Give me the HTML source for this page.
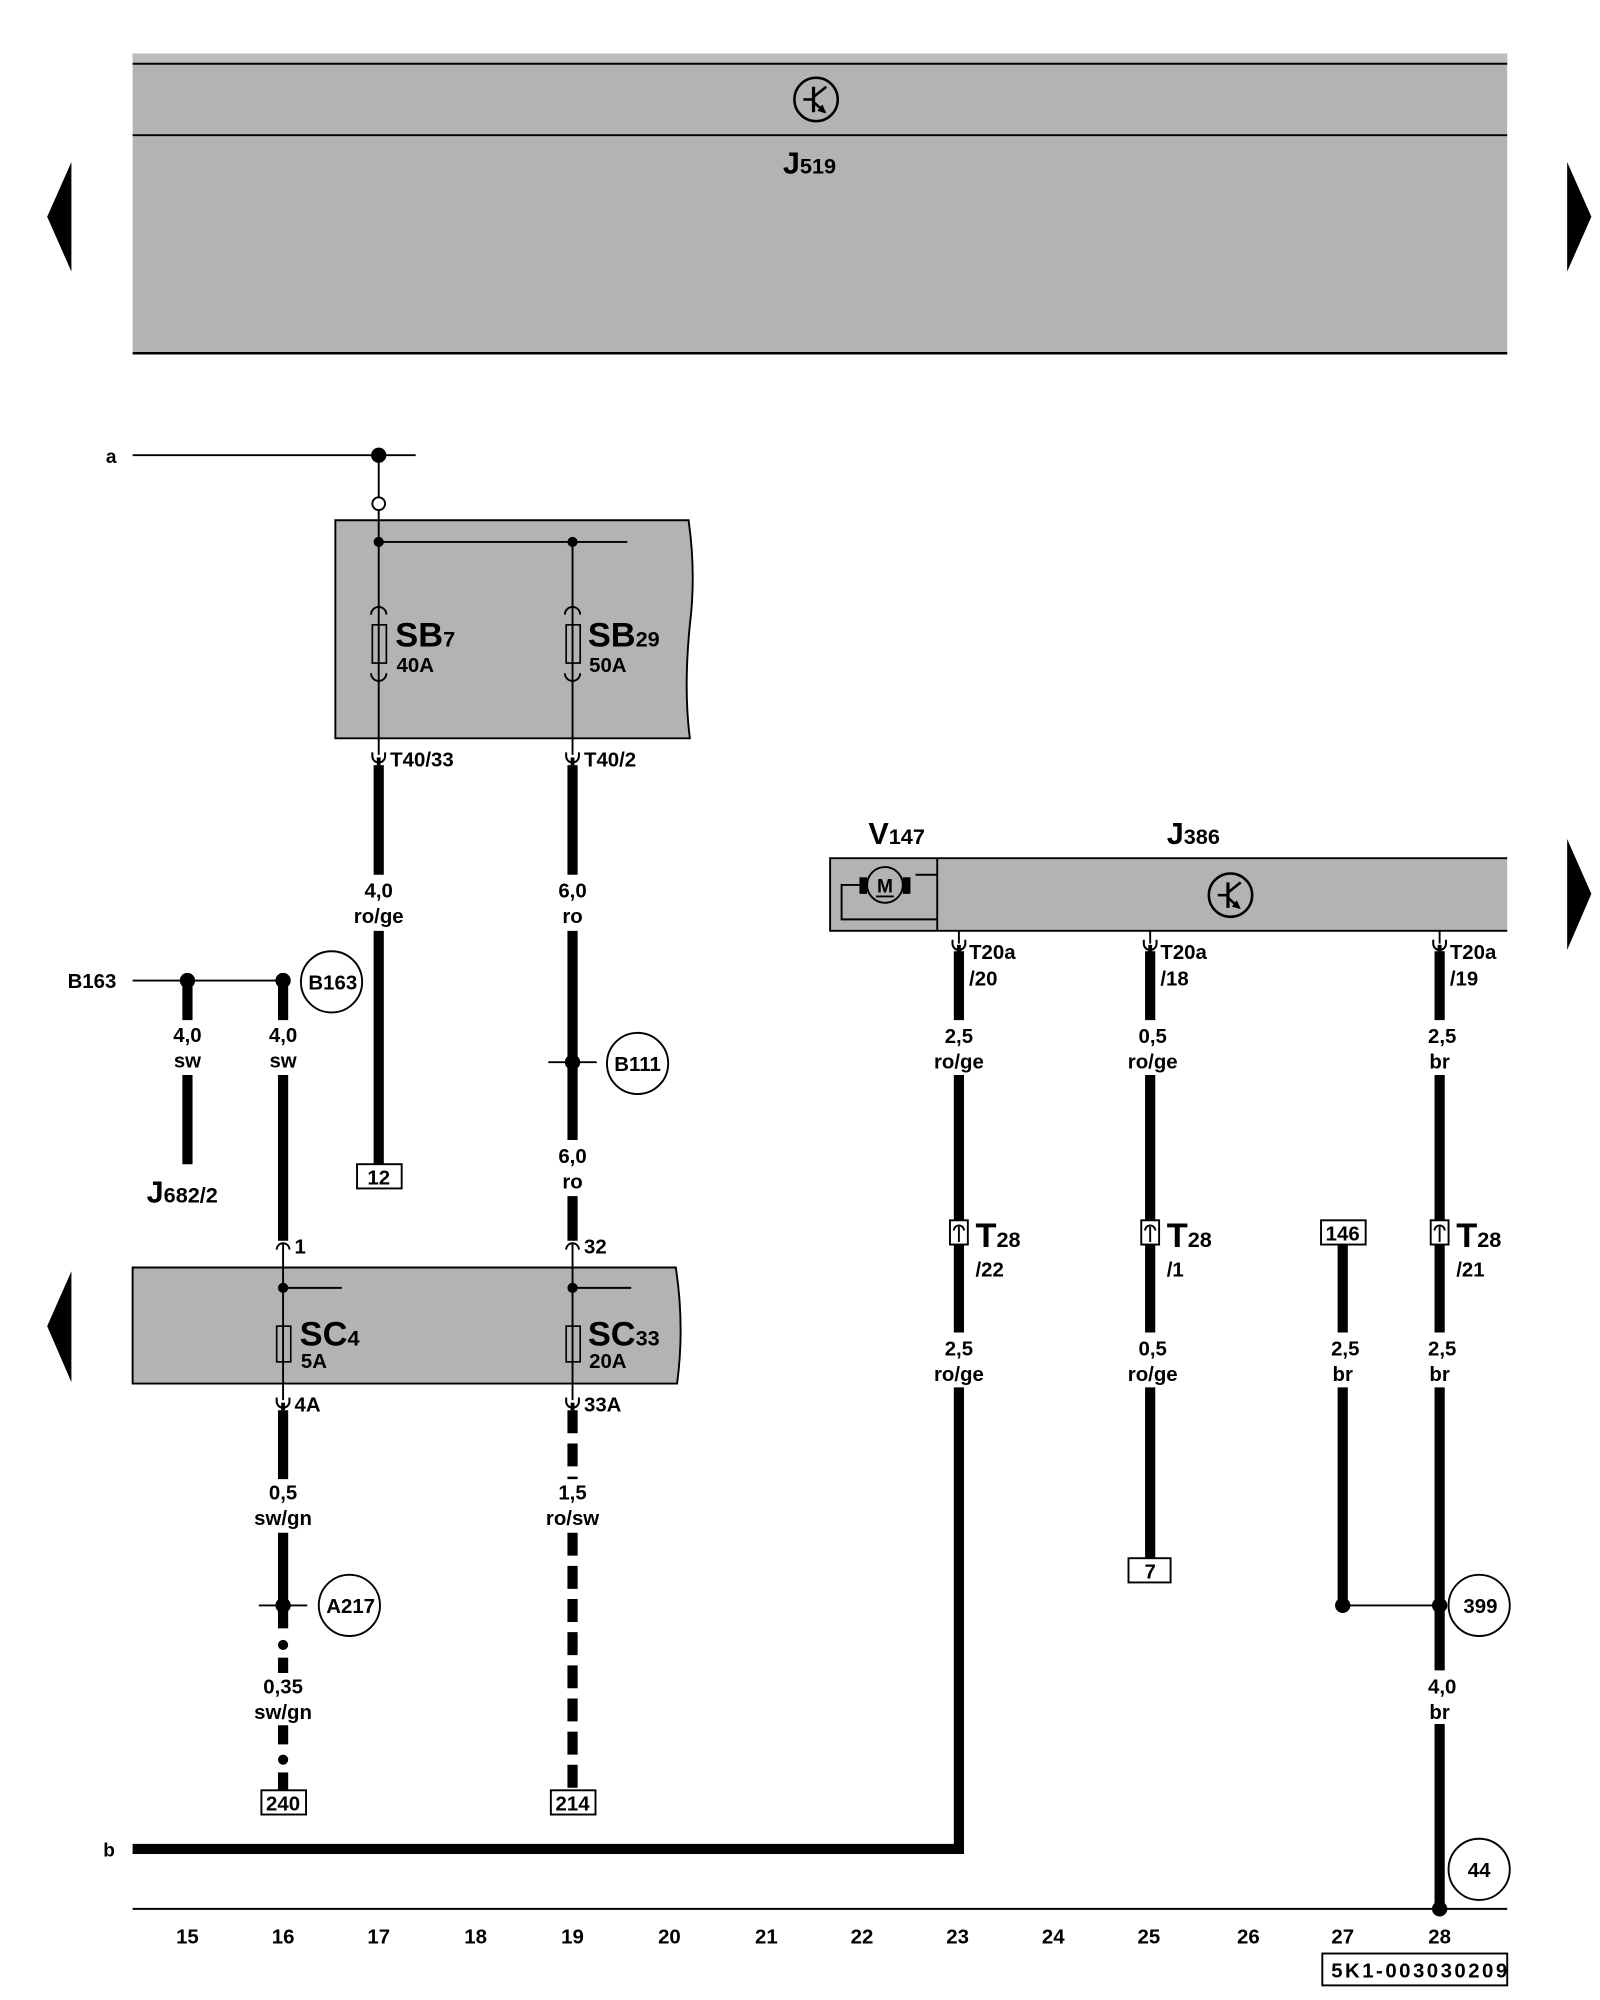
<!DOCTYPE html>
<html><head><meta charset="utf-8"><style>
html,body{margin:0;padding:0;background:#fff;}
svg{display:block;}
text{font-family:"Liberation Sans",sans-serif;font-weight:bold;fill:#000;}
</style></head><body>
<svg width="1600" height="2000" viewBox="0 0 1250 1562.5" xmlns="http://www.w3.org/2000/svg">
<defs>
<g id="cup"><path d="M-5,-6 v3 a5,5 0 0 0 10,0 v-3" fill="none" stroke="#000" stroke-width="1.6"/><rect x="-1.5" y="-2" width="3" height="6" fill="#000"/></g>
<g id="tr"><circle r="17" fill="none" stroke="#000" stroke-width="2"/><line x1="-10" y1="0" x2="-2" y2="0" stroke="#000" stroke-width="2"/><line x1="-2" y1="-10" x2="-2" y2="10" stroke="#000" stroke-width="2.5"/><line x1="-2" y1="-2" x2="8" y2="-10" stroke="#000" stroke-width="2"/><line x1="-2" y1="2" x2="7" y2="10" stroke="#000" stroke-width="2"/><path d="M8,11 l-7,-2 l4,-5z" fill="#000"/></g>
</defs>
<g transform="scale(0.9962)">
<!-- top J519 -->
<rect x="104" y="42" width="1078" height="236" fill="#b3b3b3"/>
<rect x="104" y="42" width="1078" height="8" fill="#bdbdbd"/>
<line x1="104" y1="50" x2="1182" y2="50" stroke="#000" stroke-width="1.5"/>
<line x1="104" y1="106" x2="1182" y2="106" stroke="#000" stroke-width="1.5"/>
<line x1="104" y1="277" x2="1182" y2="277" stroke="#000" stroke-width="2"/>
<use href="#tr" x="640" y="78"/>
<text x="614" y="136" font-size="24">J<tspan font-size="17">519</tspan></text>
<polygon points="56,127 56,213 37,170" fill="#000"/>
<polygon points="1229,127 1229,213 1248,170" fill="#000"/>
<polygon points="1229,658 1229,745 1248,701" fill="#000"/>
<polygon points="56,997 56,1084 37,1040" fill="#000"/>

<!-- a line -->
<text x="83" y="363" font-size="15">a</text>
<line x1="104" y1="357" x2="326" y2="357" stroke="#000" stroke-width="1.5"/>
<circle cx="297" cy="357" r="6" fill="#000"/>
<line x1="297" y1="357" x2="297" y2="390" stroke="#000" stroke-width="1.5"/>
<circle cx="297" cy="395" r="5" fill="#fff" stroke="#000" stroke-width="1.5"/>
<!-- SB box -->
<path d="M263,408 H540 Q546,450 541,490 Q536,540 541,579 H263 Z" fill="#b3b3b3" stroke="#000" stroke-width="1.5"/>
<line x1="297" y1="400" x2="297" y2="592" stroke="#000" stroke-width="1.5"/>
<line x1="297" y1="425" x2="492" y2="425" stroke="#000" stroke-width="1.5"/>
<line x1="449" y1="425" x2="449" y2="592" stroke="#000" stroke-width="1.5"/>
<circle cx="297" cy="425" r="4" fill="#000"/><circle cx="449" cy="425" r="4" fill="#000"/>
<rect x="292" y="490" width="11" height="30" fill="none" stroke="#000" stroke-width="1.3"/>
<rect x="444" y="490" width="11" height="30" fill="none" stroke="#000" stroke-width="1.3"/>
<path d="M291,482 a6,6 0 0 1 12,0 M291,528 a6,6 0 0 0 12,0 M443,482 a6,6 0 0 1 12,0 M443,528 a6,6 0 0 0 12,0" fill="none" stroke="#000" stroke-width="1.5"/>
<text x="310" y="507" font-size="27" font-weight="normal">SB<tspan font-size="17">7</tspan></text>
<text x="311" y="527" font-size="16">40A</text>
<text x="461" y="507" font-size="27" font-weight="normal">SB<tspan font-size="17">29</tspan></text>
<text x="462" y="527" font-size="16">50A</text>
<use href="#cup" x="297" y="596"/><use href="#cup" x="449" y="596"/>
<text x="306" y="601" font-size="16">T40/33</text>
<text x="458" y="601" font-size="16">T40/2</text>
<g stroke="#000" stroke-width="8">
<line x1="297" y1="600" x2="297" y2="686"/><line x1="297" y1="730" x2="297" y2="913"/>
<line x1="449" y1="600" x2="449" y2="686"/><line x1="449" y1="730" x2="449" y2="894"/><line x1="449" y1="938" x2="449" y2="973"/>
<line x1="147" y1="769" x2="147" y2="800"/><line x1="147" y1="843" x2="147" y2="913"/>
<line x1="222" y1="769" x2="222" y2="800"/><line x1="222" y1="843" x2="222" y2="973"/>
</g>
<text x="297" y="704" font-size="16" text-anchor="middle">4,0</text><text x="297" y="724" font-size="16" text-anchor="middle">ro/ge</text>
<text x="449" y="704" font-size="16" text-anchor="middle">6,0</text><text x="449" y="724" font-size="16" text-anchor="middle">ro</text>
<text x="449" y="912" font-size="16" text-anchor="middle">6,0</text><text x="449" y="932" font-size="16" text-anchor="middle">ro</text>
<rect x="280" y="913" width="35" height="19" fill="#fff" stroke="#000" stroke-width="1.5"/><text x="297" y="929" font-size="16" font-weight="normal" text-anchor="middle">12</text>
<line x1="430" y1="833" x2="468" y2="833" stroke="#000" stroke-width="1.5"/><circle cx="449" cy="833" r="6" fill="#000"/>
<circle cx="500" cy="834" r="24" fill="none" stroke="#000" stroke-width="1.5"/><text x="500" y="840" font-size="16" text-anchor="middle">B111</text>
<!-- B163 -->
<text x="53" y="775" font-size="16">B163</text>
<line x1="104" y1="769" x2="222" y2="769" stroke="#000" stroke-width="1.5"/>
<circle cx="147" cy="769" r="6" fill="#000"/><circle cx="222" cy="769" r="6" fill="#000"/>
<circle cx="260" cy="770" r="24" fill="none" stroke="#000" stroke-width="1.5"/><text x="261" y="776" font-size="16" text-anchor="middle">B163</text>
<text x="147" y="817" font-size="16" text-anchor="middle">4,0</text><text x="147" y="837" font-size="16" text-anchor="middle">sw</text>
<text x="222" y="817" font-size="16" text-anchor="middle">4,0</text><text x="222" y="837" font-size="16" text-anchor="middle">sw</text>
<text x="115" y="943" font-size="24">J<tspan font-size="17">682/2</tspan></text>
<!-- SC box -->
<path d="M104,994 H530 Q537,1040 531,1085 H104 Z" fill="#b3b3b3" stroke="#000" stroke-width="1.5"/>
<path d="M217,980 a5,5 0 0 1 10,0 M444,980 a5,5 0 0 1 10,0" fill="none" stroke="#000" stroke-width="1.5"/>
<text x="231" y="983" font-size="16">1</text><text x="458" y="983" font-size="16">32</text>
<line x1="222" y1="975" x2="222" y2="1098" stroke="#000" stroke-width="1.5"/>
<line x1="449" y1="975" x2="449" y2="1098" stroke="#000" stroke-width="1.5"/>
<line x1="222" y1="1010" x2="268" y2="1010" stroke="#000" stroke-width="1.5"/>
<line x1="449" y1="1010" x2="495" y2="1010" stroke="#000" stroke-width="1.5"/>
<circle cx="222" cy="1010" r="4" fill="#000"/><circle cx="449" cy="1010" r="4" fill="#000"/>
<rect x="217" y="1040" width="11" height="28" fill="none" stroke="#000" stroke-width="1.3"/>
<rect x="444" y="1040" width="11" height="28" fill="none" stroke="#000" stroke-width="1.3"/>
<text x="235" y="1055" font-size="27" font-weight="normal">SC<tspan font-size="17">4</tspan></text><text x="236" y="1073" font-size="16">5A</text>
<text x="461" y="1055" font-size="27" font-weight="normal">SC<tspan font-size="17">33</tspan></text><text x="462" y="1073" font-size="16">20A</text>
<use href="#cup" x="222" y="1102"/><use href="#cup" x="449" y="1102"/>
<text x="231" y="1107" font-size="16">4A</text><text x="458" y="1107" font-size="16">33A</text>
<g stroke="#000" stroke-width="8">
<line x1="222" y1="1106" x2="222" y2="1160"/><line x1="222" y1="1202" x2="222" y2="1277"/>
<line x1="222" y1="1300" x2="222" y2="1312"/><line x1="222" y1="1353" x2="222" y2="1368"/><line x1="222" y1="1390" x2="222" y2="1404"/>
<line x1="449" y1="1106" x2="449" y2="1160" stroke-dasharray="18 8"/>
<line x1="449" y1="1202" x2="449" y2="1404" stroke-dasharray="18 8"/>
</g>
<circle cx="222" cy="1290" r="4" fill="#000"/><circle cx="222" cy="1380" r="4" fill="#000"/>
<text x="222" y="1176" font-size="16" text-anchor="middle">0,5</text><text x="222" y="1196" font-size="16" text-anchor="middle">sw/gn</text>
<text x="449" y="1176" font-size="16" text-anchor="middle">1,5</text><text x="449" y="1196" font-size="16" text-anchor="middle">ro/sw</text>
<text x="222" y="1328" font-size="16" text-anchor="middle">0,35</text><text x="222" y="1348" font-size="16" text-anchor="middle">sw/gn</text>
<line x1="203" y1="1259" x2="241" y2="1259" stroke="#000" stroke-width="1.5"/><circle cx="222" cy="1259" r="6" fill="#000"/>
<circle cx="274" cy="1259" r="24" fill="none" stroke="#000" stroke-width="1.5"/><text x="275" y="1265" font-size="16" font-weight="normal" text-anchor="middle">A217</text>
<rect x="205" y="1404" width="35" height="19" fill="#fff" stroke="#000" stroke-width="1.5"/><text x="222" y="1420" font-size="16" font-weight="normal" text-anchor="middle">240</text>
<rect x="432" y="1404" width="35" height="19" fill="#fff" stroke="#000" stroke-width="1.5"/><text x="449" y="1420" font-size="16" font-weight="normal" text-anchor="middle">214</text>
<!-- b line -->
<text x="81" y="1456" font-size="15">b</text>
<path d="M104,1450 H752 V1088" fill="none" stroke="#000" stroke-width="8"/>
<!-- J386 -->
<rect x="651" y="673" width="531" height="57" fill="#b3b3b3"/>
<path d="M1182,673 H651 V730 H1182" fill="none" stroke="#000" stroke-width="1.5"/>
<line x1="735" y1="673" x2="735" y2="730" stroke="#000" stroke-width="1.5"/>
<path d="M735,686 H718 M676,694 H660 V721 H735" fill="none" stroke="#000" stroke-width="1.5"/>
<rect x="674" y="688" width="6" height="13" fill="#000"/><rect x="708" y="688" width="6" height="13" fill="#000"/>
<circle cx="694" cy="694" r="14" fill="#b3b3b3" stroke="#000" stroke-width="1.5"/>
<text x="694" y="700" font-size="15" font-weight="normal" text-anchor="middle">M</text>
<line x1="687" y1="703" x2="701" y2="703" stroke="#000" stroke-width="1.5"/>
<use href="#tr" x="965" y="702"/>
<text x="681" y="662" font-size="24">V<tspan font-size="17">147</tspan></text>
<text x="915" y="662" font-size="24">J<tspan font-size="17">386</tspan></text>
<line x1="752" y1="730" x2="752" y2="740" stroke="#000" stroke-width="1.5"/><line x1="902" y1="730" x2="902" y2="740" stroke="#000" stroke-width="1.5"/><line x1="1129" y1="730" x2="1129" y2="740" stroke="#000" stroke-width="1.5"/>
<use href="#cup" x="752" y="743"/><use href="#cup" x="902" y="743"/><use href="#cup" x="1129" y="743"/>
<text x="760" y="752" font-size="16">T20a</text><text x="760" y="773" font-size="16">/20</text>
<text x="910" y="752" font-size="16">T20a</text><text x="910" y="773" font-size="16">/18</text>
<text x="1137" y="752" font-size="16">T20a</text><text x="1137" y="773" font-size="16">/19</text>
<g stroke="#000" stroke-width="8">
<line x1="752" y1="746" x2="752" y2="800"/><line x1="752" y1="843" x2="752" y2="1045"/>
<line x1="902" y1="746" x2="902" y2="800"/><line x1="902" y1="843" x2="902" y2="1045"/><line x1="902" y1="1088" x2="902" y2="1222"/>
<line x1="1129" y1="746" x2="1129" y2="800"/><line x1="1129" y1="843" x2="1129" y2="1045"/><line x1="1129" y1="1088" x2="1129" y2="1310"/><line x1="1129" y1="1352" x2="1129" y2="1497"/>
<line x1="1053" y1="976" x2="1053" y2="1045"/><line x1="1053" y1="1088" x2="1053" y2="1259"/>
</g>
<text x="752" y="818" font-size="16" text-anchor="middle">2,5</text><text x="752" y="838" font-size="16" text-anchor="middle">ro/ge</text>
<text x="904" y="818" font-size="16" text-anchor="middle">0,5</text><text x="904" y="838" font-size="16" text-anchor="middle">ro/ge</text>
<text x="1131" y="818" font-size="16" text-anchor="middle">2,5</text><text x="1129" y="838" font-size="16" text-anchor="middle">br</text>
<text x="752" y="1063" font-size="16" text-anchor="middle">2,5</text><text x="752" y="1083" font-size="16" text-anchor="middle">ro/ge</text>
<text x="904" y="1063" font-size="16" text-anchor="middle">0,5</text><text x="904" y="1083" font-size="16" text-anchor="middle">ro/ge</text>
<text x="1055" y="1063" font-size="16" text-anchor="middle">2,5</text><text x="1053" y="1083" font-size="16" text-anchor="middle">br</text>
<text x="1131" y="1063" font-size="16" text-anchor="middle">2,5</text><text x="1129" y="1083" font-size="16" text-anchor="middle">br</text>
<g fill="#fff" stroke="#000" stroke-width="1.5">
<rect x="745" y="957" width="14" height="19"/><rect x="895" y="957" width="14" height="19"/><rect x="1122" y="957" width="14" height="19"/>
</g>
<path d="M752,974 V962 M748,965 a4,4 0 0 1 8,0 M902,974 V962 M898,965 a4,4 0 0 1 8,0 M1129,974 V962 M1125,965 a4,4 0 0 1 8,0" fill="none" stroke="#000" stroke-width="1.5"/>
<text x="765" y="978" font-size="27" font-weight="normal">T<tspan font-size="17">28</tspan></text><text x="765" y="1001" font-size="16" font-weight="normal">/22</text>
<text x="915" y="978" font-size="27" font-weight="normal">T<tspan font-size="17">28</tspan></text><text x="915" y="1001" font-size="16" font-weight="normal">/1</text>
<text x="1142" y="978" font-size="27" font-weight="normal">T<tspan font-size="17">28</tspan></text><text x="1142" y="1001" font-size="16" font-weight="normal">/21</text>
<rect x="1036" y="957" width="35" height="19" fill="#fff" stroke="#000" stroke-width="1.5"/><text x="1053" y="973" font-size="16" font-weight="normal" text-anchor="middle">146</text>
<rect x="885" y="1222" width="33" height="19" fill="#fff" stroke="#000" stroke-width="1.5"/><text x="902" y="1238" font-size="16" font-weight="normal" text-anchor="middle">7</text>
<line x1="1053" y1="1259" x2="1129" y2="1259" stroke="#000" stroke-width="1.5"/>
<circle cx="1053" cy="1259" r="6" fill="#000"/><circle cx="1129" cy="1259" r="6" fill="#000"/>
<circle cx="1160" cy="1259" r="24" fill="none" stroke="#000" stroke-width="1.5"/><text x="1161" y="1265" font-size="16" font-weight="normal" text-anchor="middle">399</text>
<text x="1131" y="1328" font-size="16" text-anchor="middle">4,0</text><text x="1129" y="1348" font-size="16" text-anchor="middle">br</text>
<circle cx="1160" cy="1466" r="24" fill="none" stroke="#000" stroke-width="1.5"/><text x="1160" y="1472" font-size="16" text-anchor="middle">44</text>
<line x1="104" y1="1497" x2="1182" y2="1497" stroke="#000" stroke-width="1.5"/>
<circle cx="1129" cy="1497" r="6" fill="#000"/>
<g font-size="16" text-anchor="middle">
<text x="147" y="1524">15</text><text x="222" y="1524">16</text><text x="297" y="1524">17</text><text x="373" y="1524">18</text><text x="449" y="1524">19</text><text x="525" y="1524">20</text><text x="601" y="1524">21</text><text x="676" y="1524">22</text><text x="751" y="1524">23</text><text x="826" y="1524">24</text><text x="901" y="1524">25</text><text x="979" y="1524">26</text><text x="1053" y="1524">27</text><text x="1129" y="1524">28</text>
</g>
<rect x="1037" y="1532" width="145" height="25" fill="#fff" stroke="#000" stroke-width="1.5"/>
<text x="1044" y="1551" font-size="16" textLength="138">5K1-003030209</text>
</g>
</svg>
</body></html>
